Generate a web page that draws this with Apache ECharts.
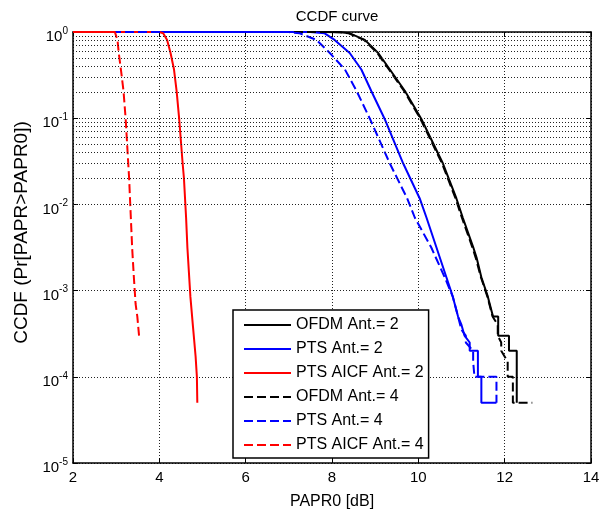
<!DOCTYPE html>
<html>
<head>
<meta charset="utf-8">
<script src="https://cdn.jsdelivr.net/npm/echarts@6/dist/echarts.min.js"></script>
<style>
html,body{margin:0;padding:0;background:#fff;}
#chart{width:605px;height:515px;}
</style>
</head>
<body>
<div id="chart"></div>
<script>
// ---- data (x = PAPR0 [dB], y = CCDF) ----
const xTicks = [2, 4, 6, 8, 10, 12, 14];
const seriesNames = ['OFDM Ant.= 2', 'PTS Ant.= 2', 'PTS AICF Ant.= 2', 'OFDM Ant.= 4', 'PTS Ant.= 4', 'PTS AICF Ant.= 4'];

const ofdm2 = [[2,1],[7.8,1],[8.2,0.995],[8.41,0.966],[8.76,0.81],[9.07,0.57],[9.34,0.367],[9.69,0.207],[10.07,0.098],[10.57,0.0298],[10.88,0.0118],[11.03,0.007],[11.27,0.0032],[11.35,0.0024],[11.46,0.00143],[11.61,0.00085],[11.73,5e-4],[11.85,5e-4],[11.85,3e-4],[12.1,3e-4],[12.1,2e-4],[12.28,2e-4],[12.28,5e-5]];
const pts2 = [[2,1],[7.5,0.999],[7.83,0.966],[8.06,0.81],[8.41,0.57],[8.68,0.367],[8.91,0.207],[9.22,0.098],[9.65,0.0298],[10.03,0.0118],[10.19,0.007],[10.42,0.00316],[10.65,0.00143],[10.80,8.45e-4],[10.92,5e-4],[11.0,4e-4],[11.07,3e-4],[11.19,2.5e-4],[11.19,2e-4],[11.38,2e-4],[11.38,1e-4],[11.46,1e-4],[11.46,5e-5],[11.81,5e-5]];
const aicf2 = [[2,1],[4.0,1],[4.09,0.966],[4.18,0.81],[4.26,0.57],[4.34,0.367],[4.40,0.207],[4.46,0.098],[4.54,0.0298],[4.57,0.0201],[4.62,0.007],[4.65,0.00316],[4.72,8.45e-4],[4.78,3.8e-4],[4.84,1.73e-4],[4.87,1.0e-4],[4.88,5e-5]];
const ofdm4 = [[2,1],[7.8,1],[8.18,0.995],[8.39,0.966],[8.74,0.81],[9.05,0.57],[9.32,0.367],[9.67,0.207],[10.05,0.098],[10.55,0.0298],[10.86,0.0118],[11.01,0.007],[11.25,0.0032],[11.33,0.0024],[11.45,0.00143],[11.6,0.00085],[11.72,5e-4],[11.84,4e-4],[11.84,3e-4],[11.92,2.5e-4],[11.92,2e-4],[12.07,1.5e-4],[12.07,1e-4],[12.19,1e-4],[12.19,5e-5],[12.64,5e-5]];
const pts4 = [[2,1],[7.0,0.999],[7.25,0.966],[7.64,0.81],[7.95,0.57],[8.3,0.367],[8.57,0.207],[8.88,0.098],[9.34,0.0298],[9.74,0.0118],[9.92,0.007],[10.30,0.00316],[10.61,0.00143],[10.80,8.45e-4],[10.92,5e-4],[11.0,3.5e-4],[11.1,3e-4],[11.1,2.5e-4],[11.27,2e-4],[11.27,1.5e-4],[11.3,1e-4],[11.81,1e-4],[11.81,5e-5]];
const aicf4 = [[2,1],[2.97,1],[3.0,0.966],[3.03,0.81],[3.06,0.57],[3.11,0.367],[3.17,0.207],[3.22,0.098],[3.28,0.0298],[3.30,0.0201],[3.32,0.0118],[3.34,0.007],[3.37,0.00316],[3.41,0.00143],[3.45,7e-4],[3.49,5e-4],[3.53,3e-4]];

// minor log grid values (2..9 x 10^k)
const minorGrid = [];
for (let k = -5; k < 0; k++) for (let d = 2; d <= 9; d++) minorGrid.push(+(d * Math.pow(10, k)).toPrecision(3));

const FONT = 'Liberation Sans, Arial, Helvetica, sans-serif';
const gridDot = {color: '#222', type: [1, 2], width: 1};
const dash = [9, 4];

function line(name, data, color, dashed) {
  return {
    name, type: 'line', data, symbol: 'none', showSymbol: false,
    lineStyle: {color, width: 2, type: dashed ? dash : 'solid'},
    itemStyle: {color}, animation: false, silent: true
  };
}

const chart = echarts.init(document.getElementById('chart'));
chart.setOption({
  animation: false,
  backgroundColor: '#fff',
  title: {
    text: 'CCDF curve', left: 332, top: 4, textAlign: 'center',
    textStyle: {fontFamily: FONT, fontSize: 15, fontWeight: 'normal', color: '#000'}
  },
  grid: {left: 73, right: 14, top: 32, bottom: 47, containLabel: false},
  legend: {
    data: seriesNames, orient: 'vertical', left: 233, top: 310,
    itemWidth: 47, itemHeight: 14, itemGap: 8,
    padding: [7, 5, 5, 10],
    backgroundColor: '#fff', borderColor: '#000', borderWidth: 1.5,
    itemStyle: {opacity: 0, borderWidth: 0},
    textStyle: {fontFamily: FONT, fontSize: 16, color: '#000'},
    selectedMode: false
  },
  xAxis: [{
    type: 'value', min: xTicks[0], max: xTicks[xTicks.length - 1], interval: 2,
    name: 'PAPR0 [dB]', nameLocation: 'middle', nameGap: 31,
    nameTextStyle: {fontFamily: FONT, fontSize: 16, color: '#000'},
    axisLine: {show: true, onZero: false, lineStyle: {color: '#000', width: 1.5}},
    axisTick: {show: true, inside: true, length: 5, lineStyle: {color: '#000'}},
    axisLabel: {fontFamily: FONT, fontSize: 15, color: '#000', margin: 7},
    splitLine: {show: true, lineStyle: gridDot}
  }, {
    type: 'value', position: 'top', min: 2, max: 14, interval: 2,
    axisLine: {show: true, onZero: false, lineStyle: {color: '#000', width: 1.5}},
    axisTick: {show: true, inside: true, length: 5, lineStyle: {color: '#000'}},
    axisLabel: {show: false}, splitLine: {show: false}
  }],
  yAxis: [{
    type: 'log', logBase: 10, min: 1e-5, max: 1,
    name: 'CCDF (Pr[PAPR>PAPR0])', nameLocation: 'middle', nameGap: 38,
    nameTextStyle: {fontFamily: FONT, fontSize: 19, color: '#000', padding: [0, 0, 0, 30]},
    axisLine: {show: true, onZero: false, lineStyle: {color: '#000', width: 1.5}},
    axisTick: {show: true, inside: true, length: 5, lineStyle: {color: '#000'}},
    axisLabel: {
      margin: 5,
      padding: [10, 0, 0, 0],
      formatter: function (v) { return '{b|10}{s|' + Math.round(Math.log10(v)) + '}'; },
      rich: {
        b: {fontFamily: FONT, fontSize: 15, color: '#000'},
        s: {fontFamily: FONT, fontSize: 10, color: '#000', padding: [0, 0, 12, 0]}
      }
    },
    splitLine: {show: true, lineStyle: gridDot}
  }, {
    type: 'log', logBase: 10, min: 1e-5, max: 1, position: 'right',
    axisLine: {show: true, onZero: false, lineStyle: {color: '#000', width: 1.5}},
    axisTick: {show: true, inside: true, length: 5, lineStyle: {color: '#000'}},
    axisLabel: {show: false}, splitLine: {show: false}
  }],
  series: [
    {
      name: 'grid', type: 'line', data: [], silent: true, animation: false,
      markLine: {
        silent: true, symbol: ['none', 'none'], animation: false,
        label: {show: false}, lineStyle: gridDot,
        data: minorGrid.map(v => ({yAxis: v}))
      }
    },
    line(seriesNames[0], ofdm2, '#000000', false),
    line(seriesNames[1], pts2, '#0000ff', false),
    line(seriesNames[2], aicf2, '#ff0000', false),
    line(seriesNames[3], ofdm4, '#000000', true),
    line(seriesNames[4], pts4, '#0000ff', true),
    line(seriesNames[5], aicf4, '#ff0000', true)
  ]
});
</script>
</body>
</html>
